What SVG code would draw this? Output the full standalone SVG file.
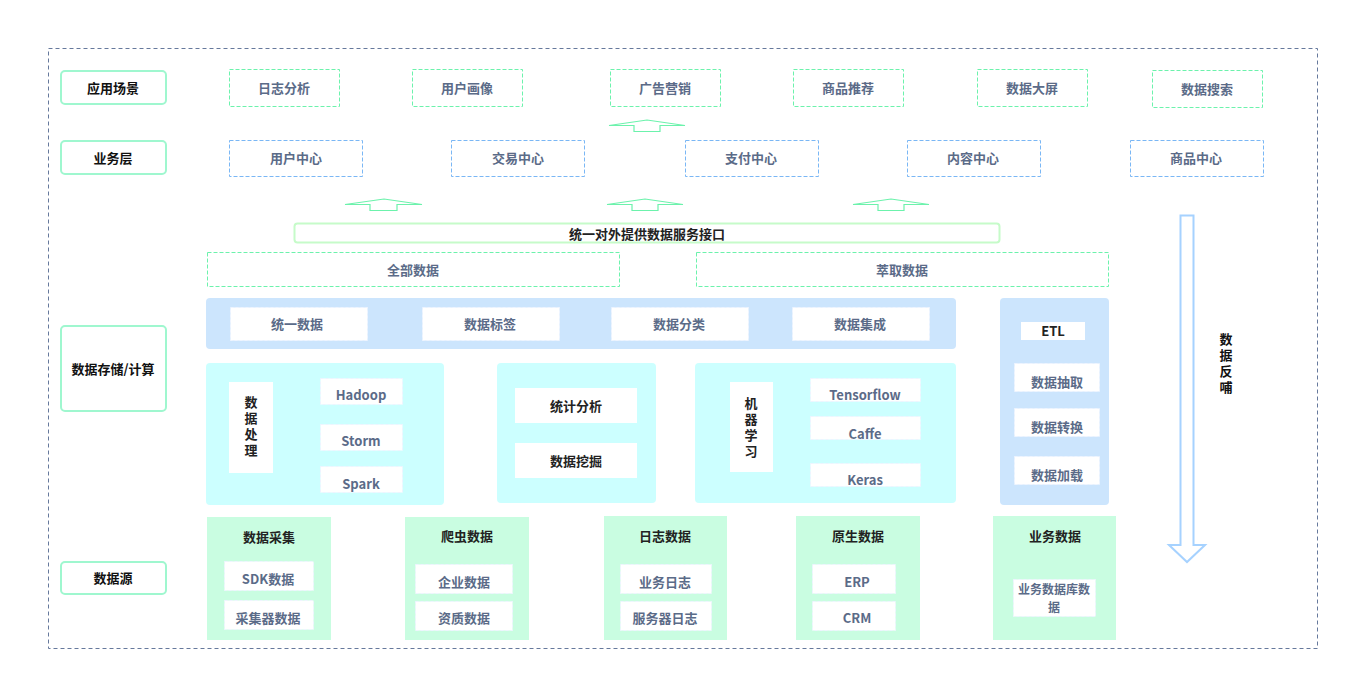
<svg xmlns="http://www.w3.org/2000/svg" width="1349" height="681" viewBox="0 0 1349 681">
<style>
text{font-family:"Noto Sans CJK SC","Liberation Sans",sans-serif;font-weight:700;font-size:13px;text-anchor:middle;dominant-baseline:central;transform:translateY(-1px)}
.lab{fill:#111}
.dk{fill:#222}
.it{fill:#5b6b88}
.vt{writing-mode:vertical-rl;letter-spacing:3px;transform:none}
.lbox{fill:#fff;stroke:#9ff7cf;stroke-width:2}
.gd{fill:#fff;stroke:#6cf2ac;stroke-width:1;stroke-dasharray:4 2}
.bd{fill:#fff;stroke:#7ab7f5;stroke-width:1;stroke-dasharray:4 2}
.wb{fill:#fff;stroke:#eef4ff;stroke-width:1;stroke-dasharray:3 2}
.band{fill:#cce5fd}
.cy{fill:#ccffff}
.mint{fill:#c9fde1}
.up{fill:#fff;stroke:#6cf2ac;stroke-width:1.2}
</style>
<rect x="48.5" y="48.5" width="1269" height="600" fill="none" stroke="#66799c" stroke-width="1" stroke-dasharray="4 3"/>

<g id="lbl-app"><rect class="lbox" x="61" y="71" width="105" height="33" rx="4"/><text class="lab" x="113" y="88">应用场景</text></g>
<g id="lbl-biz"><rect class="lbox" x="61" y="141" width="105" height="33" rx="4"/><text class="lab" x="113" y="158">业务层</text></g>
<g id="lbl-store"><rect class="lbox" x="61" y="326" width="105" height="85" rx="4"/><text class="lab" x="113" y="369">数据存储/计算</text></g>
<g id="lbl-src"><rect class="lbox" x="61" y="562" width="105" height="32" rx="4"/><text class="lab" x="113" y="578">数据源</text></g>

<g id="app1"><rect class="gd" x="229.5" y="69.5" width="110" height="37"/><text class="it" x="284" y="88">日志分析</text></g>
<g id="app2"><rect class="gd" x="412.5" y="69.5" width="110" height="37"/><text class="it" x="467" y="88">用户画像</text></g>
<g id="app3"><rect class="gd" x="610.5" y="69.5" width="110" height="37"/><text class="it" x="665" y="88">广告营销</text></g>
<g id="app4"><rect class="gd" x="793.5" y="69.5" width="110" height="37"/><text class="it" x="848" y="88">商品推荐</text></g>
<g id="app5"><rect class="gd" x="977.5" y="69.5" width="110" height="37"/><text class="it" x="1032" y="88">数据大屏</text></g>
<g id="app6"><rect class="gd" x="1152.5" y="70.5" width="110" height="37"/><text class="it" x="1207" y="89">数据搜索</text></g>

<g id="biz1"><rect class="bd" x="229.5" y="140.5" width="133" height="36"/><text class="it" x="296" y="158">用户中心</text></g>
<g id="biz2"><rect class="bd" x="451.5" y="140.5" width="133" height="36"/><text class="it" x="518" y="158">交易中心</text></g>
<g id="biz3"><rect class="bd" x="685.5" y="140.5" width="133" height="36"/><text class="it" x="751" y="158">支付中心</text></g>
<g id="biz4"><rect class="bd" x="907.5" y="140.5" width="133" height="36"/><text class="it" x="973" y="158">内容中心</text></g>
<g id="biz5"><rect class="bd" x="1130.5" y="140.5" width="133" height="36"/><text class="it" x="1196" y="158">商品中心</text></g>

<g id="connectors">
<path class="up" d="M609 125.5 L647 120 L685 125.5 L660 125.5 L660 131.5 L634 131.5 L634 125.5 Z"/>
<path class="up" d="M345 204.5 L384 199 L422 204.5 L397 204.5 L397 210.5 L370 210.5 L370 204.5 Z"/>
<path class="up" d="M607 204.5 L645 199 L683 204.5 L658 204.5 L658 210.5 L632 210.5 L632 204.5 Z"/>
<path class="up" d="M853 204.5 L891 199 L929 204.5 L904 204.5 L904 210.5 L878 210.5 L878 204.5 Z"/>
<path d="M1180.5 215.5 L1193.5 215.5 L1193.5 545 L1205 545 L1187 562 L1169 545 L1180.5 545 Z" fill="#fff" stroke="#a6d2ff" stroke-width="2"/>
</g>
<g id="feedback"><text class="lab vt" x="1226" y="365">数据反哺</text></g>

<g id="api"><rect x="294.5" y="223.5" width="705" height="19" rx="3" fill="#fff" stroke="#c6fbc9" stroke-width="2"/><text class="dk" x="647" y="234">统一对外提供数据服务接口</text></g>
<g id="all"><rect class="gd" x="207.5" y="252.5" width="412" height="34"/><text class="it" x="413" y="270">全部数据</text></g>
<g id="extract"><rect class="gd" x="696.5" y="252.5" width="412" height="34"/><text class="it" x="902" y="270">萃取数据</text></g>

<g id="band"><rect class="band" x="206" y="298" width="750" height="51" rx="4"/>
<rect class="wb" x="230.5" y="307.5" width="137" height="33"/><text class="it" x="297" y="324">统一数据</text>
<rect class="wb" x="422.5" y="307.5" width="137" height="33"/><text class="it" x="490" y="324">数据标签</text>
<rect class="wb" x="611.5" y="307.5" width="137" height="33"/><text class="it" x="679" y="324">数据分类</text>
<rect class="wb" x="792.5" y="307.5" width="137" height="33"/><text class="it" x="860" y="324">数据集成</text>
</g>

<g id="etl"><rect class="band" x="1000" y="298" width="109" height="207" rx="4"/>
<rect x="1021" y="322" width="64" height="18" fill="#fff"/><text class="dk" x="1053" y="331">ETL</text>
<rect class="wb" x="1014.5" y="363.5" width="85" height="28"/><text class="it" x="1057" y="382">数据抽取</text>
<rect class="wb" x="1014.5" y="408.5" width="85" height="28"/><text class="it" x="1057" y="427">数据转换</text>
<rect class="wb" x="1014.5" y="456.5" width="85" height="28"/><text class="it" x="1057" y="475">数据加载</text>
</g>

<g id="proc"><rect class="cy" x="206" y="363" width="238" height="142" rx="4"/>
<rect x="229" y="382" width="44" height="91" fill="#fff"/>
<text class="dk vt" x="251" y="428">数据处理</text>
<rect class="wb" x="320.5" y="378.5" width="82" height="26"/><text class="it" x="361" y="395">Hadoop</text>
<rect class="wb" x="320.5" y="424.5" width="82" height="26"/><text class="it" x="361" y="441">Storm</text>
<rect class="wb" x="320.5" y="466.5" width="82" height="26"/><text class="it" x="361" y="484">Spark</text>
</g>

<g id="stat"><rect class="cy" x="497" y="363" width="159" height="140" rx="4"/>
<rect x="515" y="388" width="122" height="35" fill="#fff"/><text class="dk" x="576" y="406">统计分析</text>
<rect x="515" y="443" width="122" height="35" fill="#fff"/><text class="dk" x="576" y="461">数据挖掘</text>
</g>

<g id="ml"><rect class="cy" x="695" y="363" width="261" height="140" rx="4"/>
<rect x="730" y="382" width="43" height="90" fill="#fff"/>
<text class="dk vt" x="751" y="429">机器学习</text>
<rect class="wb" x="810.5" y="378.5" width="110" height="23"/><text class="it" x="865" y="395">Tensorflow</text>
<rect class="wb" x="810.5" y="416.5" width="110" height="23"/><text class="it" x="865" y="434">Caffe</text>
<rect class="wb" x="810.5" y="463.5" width="110" height="23"/><text class="it" x="865" y="480">Keras</text>
</g>

<g id="src1"><rect class="mint" x="207" y="517" width="124" height="123"/><text class="dk" x="269" y="537">数据采集</text>
<rect class="wb" x="224.5" y="561.5" width="89" height="29"/><text class="it" x="268" y="579">SDK数据</text>
<rect class="wb" x="224.5" y="600.5" width="89" height="29"/><text class="it" x="268" y="618">采集器数据</text></g>
<g id="src2"><rect class="mint" x="405" y="517" width="124" height="123"/><text class="dk" x="467" y="536">爬虫数据</text>
<rect class="wb" x="415.5" y="564.5" width="97" height="29"/><text class="it" x="464" y="582">企业数据</text>
<rect class="wb" x="415.5" y="601.5" width="97" height="29"/><text class="it" x="464" y="618">资质数据</text></g>
<g id="src3"><rect class="mint" x="604" y="516" width="123" height="124"/><text class="dk" x="665" y="536">日志数据</text>
<rect class="wb" x="620.5" y="564.5" width="91" height="29"/><text class="it" x="665" y="582">业务日志</text>
<rect class="wb" x="620.5" y="601.5" width="91" height="29"/><text class="it" x="665" y="618">服务器日志</text></g>
<g id="src4"><rect class="mint" x="796" y="516" width="124" height="124"/><text class="dk" x="858" y="536">原生数据</text>
<rect class="wb" x="812.5" y="564.5" width="83" height="29"/><text class="it" x="857" y="582">ERP</text>
<rect class="wb" x="812.5" y="601.5" width="83" height="29"/><text class="it" x="857" y="618">CRM</text></g>
<g id="src5"><rect class="mint" x="993" y="516" width="123" height="124"/><text class="dk" x="1055" y="536">业务数据</text>
<rect class="wb" x="1013.5" y="579.5" width="82" height="37"/><text class="it" x="1054" y="589" style="font-size:12px">业务数据库数<tspan x="1054" dy="18">据</tspan></text></g>
</svg>
